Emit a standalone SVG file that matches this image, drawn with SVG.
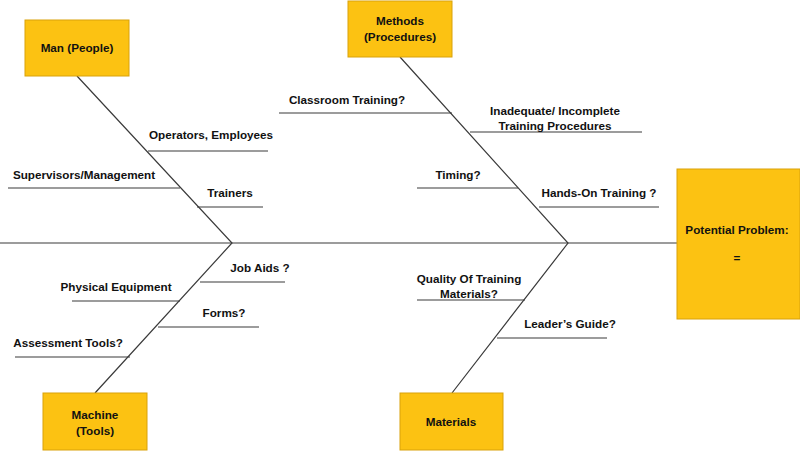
<svg xmlns="http://www.w3.org/2000/svg" width="800" height="453" viewBox="0 0 800 453">
<style>
.box{fill:#FCC212;stroke:#D9A20A;stroke-width:1}
.ln{stroke:#3a3a3a;stroke-width:1.2;fill:none}
.t{font-family:"Liberation Sans",Arial,sans-serif;font-weight:bold;font-size:11.7px;fill:#111;text-anchor:middle}
</style>
<rect width="800" height="453" fill="#ffffff"/>
<g id="connectors">
<line class="ln" x1="0" y1="243" x2="677" y2="243"/>
<polyline class="ln" points="77,76 232,243 95,393"/>
<polyline class="ln" points="400,57 568,243 452,393"/>
<line class="ln" x1="148" y1="151" x2="268" y2="151"/>
<line class="ln" x1="8" y1="188" x2="180" y2="188"/>
<line class="ln" x1="197" y1="207" x2="263" y2="207"/>
<line class="ln" x1="279" y1="113" x2="452" y2="113"/>
<line class="ln" x1="470" y1="132" x2="642" y2="132"/>
<line class="ln" x1="417" y1="188" x2="518" y2="188"/>
<line class="ln" x1="539" y1="207" x2="659" y2="207"/>
<line class="ln" x1="200" y1="282" x2="285" y2="282"/>
<line class="ln" x1="72" y1="301" x2="180" y2="301"/>
<line class="ln" x1="158" y1="327" x2="259" y2="327"/>
<line class="ln" x1="15" y1="357" x2="130" y2="357"/>
<line class="ln" x1="417" y1="300" x2="525" y2="300"/>
<line class="ln" x1="497" y1="338" x2="607" y2="338"/>
</g>
<g id="labels">
<text class="t" x="211" y="139">Operators, Employees</text>
<text class="t" x="84" y="179">Supervisors/Management</text>
<text class="t" x="230" y="197">Trainers</text>
<text class="t" x="347" y="104">Classroom Training?</text>
<text class="t" x="555" y="115">Inadequate/ Incomplete</text>
<text class="t" x="555" y="130">Training Procedures</text>
<text class="t" x="458" y="179">Timing?</text>
<text class="t" x="599" y="197">Hands-On Training ?</text>
<text class="t" x="260" y="272">Job Aids ?</text>
<text class="t" x="116" y="291">Physical Equipment</text>
<text class="t" x="224" y="317">Forms?</text>
<text class="t" x="68" y="347">Assessment Tools?</text>
<text class="t" x="469" y="283">Quality Of Training</text>
<text class="t" x="469" y="298">Materials?</text>
<text class="t" x="570" y="328">Leader’s Guide?</text>
</g>
<g id="man">
<rect class="box" x="25" y="20" width="104" height="56"/>
<text class="t" x="77" y="52">Man (People)</text>
</g>
<g id="methods">
<rect class="box" x="348" y="1" width="104" height="56"/>
<text class="t" x="400" y="25">Methods</text>
<text class="t" x="400" y="41">(Procedures)</text>
</g>
<g id="machine">
<rect class="box" x="43" y="393" width="104" height="57"/>
<text class="t" x="95" y="419">Machine</text>
<text class="t" x="95" y="435">(Tools)</text>
</g>
<g id="materials">
<rect class="box" x="400" y="393" width="103" height="57"/>
<text class="t" x="451" y="426">Materials</text>
</g>
<g id="problem">
<rect class="box" x="677" y="169" width="123" height="150"/>
<text class="t" x="737" y="234">Potential Problem:</text>
<text class="t" x="737" y="262">=</text>
</g>
</svg>
